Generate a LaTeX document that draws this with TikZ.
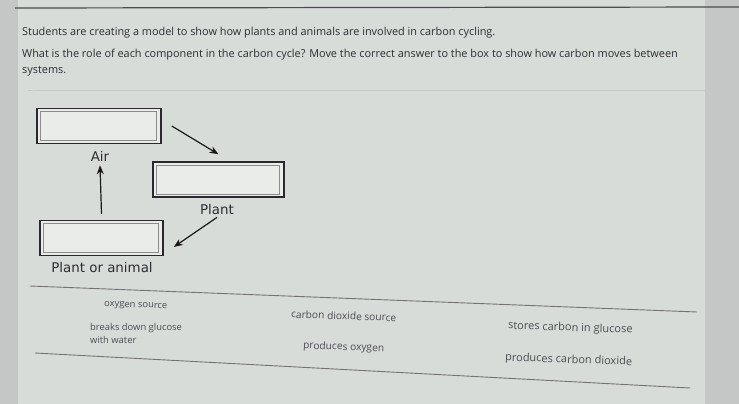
\documentclass[tikz,border=0pt]{standalone}
\usepackage{fontspec}
\setmainfont{Open Sans}
\newfontfamily\labelfont{DejaVu Sans}
\usetikzlibrary{arrows.meta}
\definecolor{bgc}{RGB}{216,220,217}
\definecolor{edgec}{RGB}{196,199,197}
\definecolor{txtc}{RGB}{45,45,50}
\definecolor{boxc}{RGB}{40,40,45}
\begin{document}
\begin{tikzpicture}[x=1pt,y=-1pt,
  qtext/.style={anchor=west,inner sep=0pt,text=txtc,font=\fontsize{10.9}{12}\selectfont},
  anstext/.style={anchor=west,inner sep=0pt,text=txtc!85!white,rotate=-2,align=left},
  lbl/.style={inner sep=0pt,text=txtc,font=\labelfont\fontsize{13.4}{15}\selectfont},
  dropbox/.style={draw=boxc,line width=1.5pt,fill=white!45!bgc,minimum height=35pt,inner sep=0pt,
    path picture={\draw[black!45,line width=0.8pt]
      ([shift={(3pt,-3pt)}]path picture bounding box.north west) rectangle
      ([shift={(-5pt,3pt)}]path picture bounding box.south east);}},
  arr/.style={draw=black!90,line width=1.2pt,-{Stealth[length=9pt,width=7pt]}},
  panelline/.style={draw=black!55,line width=0.9pt}]
\useasboundingbox (0,0) rectangle (739,404);
\fill[bgc] (0,0) rectangle (739,404);
\fill[edgec] (0,0) rectangle (18,404);
\fill[edgec] (705,0) rectangle (739,404);
% top separator
\coordinate (tl) at (15,8);
\coordinate (tr) at (739,7);
\draw[draw=black!70,line width=1.2pt] (tl) -- (tr);
% question
\node[qtext] (q1) at (22,33) {Students are creating a model to show how plants and animals are involved in carbon cycling.};
\node[qtext] (q2) at (22,55) {What is the role of each component in the carbon cycle? Move the correct answer to the box to show how carbon moves between};
\node[qtext] (q3) at (22,71) {systems.};
% diagram panel separator
\coordinate (sl) at (28,90);
\coordinate (sr) at (725,90);
\draw[black!22,line width=0.8pt] (sl) -- (sr);
\coordinate (vl) at (33,90);
\coordinate (vb) at (33,286);
\draw[black!15,line width=0.8pt] (vl) -- (vb);
% boxes
\node[dropbox,minimum width=124pt] (airbox) at (99,126) {};
\node[dropbox,minimum width=131pt] (plantbox) at (218.5,179.5) {};
\node[dropbox,minimum width=123pt] (pabox) at (101.5,238) {};
% labels
\node[lbl] (airlbl) at (100,156) {Air};
\node[lbl] (plantlbl) at (217,210) {Plant};
\node[lbl] (palbl) at (102,268) {Plant or animal};
% arrows
\draw[arr] ([xshift=10pt]airbox.east) -- ([yshift=7pt]plantbox.north);
\draw[arr] ([yshift=-2pt]plantlbl.south) -- ([xshift=10pt,yshift=-9pt]pabox.east);
\draw[arr] ([yshift=6pt]pabox.north) -- ([yshift=-4pt]airlbl.south);
% answer panel
\coordinate (p1l) at (30,286);
\coordinate (p1r) at (697,312);
\coordinate (p2l) at (35,353);
\coordinate (p2r) at (690,388);
\draw[panelline] (p1l) -- (p1r);
\draw[panelline] (p2l) -- (p2r);
\node[anstext,font=\fontsize{9.4}{11}\selectfont] (a1) at (104,305) {oxygen source};
\node[anstext,rotate=2,font=\fontsize{9.4}{11}\selectfont] (a2) at (90,328.5) {breaks down glucose};
\node[anstext,rotate=2,font=\fontsize{9.4}{11}\selectfont] (a2b) at (90,340) {with water};
\node[anstext,font=\fontsize{10.2}{12}\selectfont] (a3) at (291,314) {carbon dioxide source};
\node[anstext,font=\fontsize{10.2}{12}\selectfont] (a4) at (303,346) {produces oxygen};
\node[anstext,font=\fontsize{11}{13}\selectfont] (a5) at (508,326) {stores carbon in glucose};
\node[anstext,font=\fontsize{11}{13}\selectfont] (a6) at (505,358) {produces carbon dioxide};
\end{tikzpicture}
\end{document}
